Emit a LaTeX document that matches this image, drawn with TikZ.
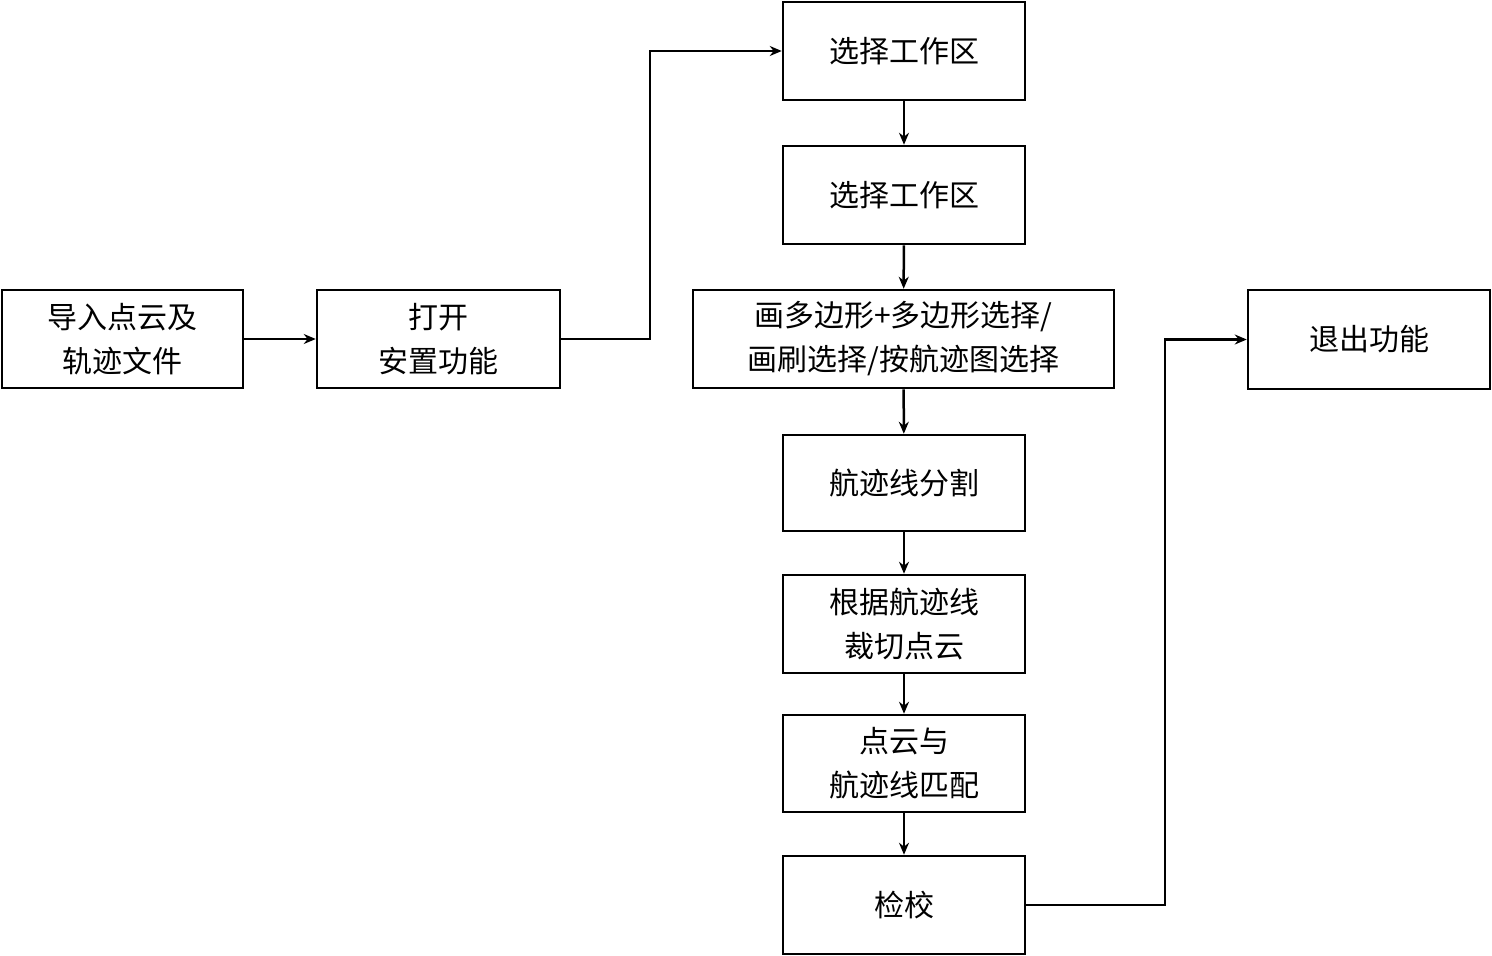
\documentclass[tikz,border=0pt]{standalone}
\usepackage{fontspec}
\setmainfont{Noto Sans CJK SC}
\usetikzlibrary{arrows.meta}
\begin{document}
\begin{tikzpicture}[x=1pt,y=-1pt,
  box/.style={draw,line width=2.5pt,align=center,inner sep=0pt,font=\fontsize{30}{44}\selectfont},
  arr/.style={line width=2.5pt,-{Stealth[length=12pt,width=10pt]}}]
\useasboundingbox (0,0) rectangle (1492,956);
\newcommand{\bx}[6]{\node[box,minimum width=#4-#2,minimum height=#5-#3] (#1) at ({(#2+#4)/2},{(#3+#5)/2}) {#6};}
\bx{a}{2}{290}{243}{388}{导入点云及\\轨迹文件}
\bx{b}{317}{290}{560}{388}{打开\\安置功能}
\bx{c1}{783}{2}{1025}{100}{选择工作区}
\bx{c2}{783}{146}{1025}{244}{选择工作区}
\bx{c3}{693}{290}{1114}{388}{画多边形+多边形选择/\\画刷选择/按航迹图选择}
\bx{c4}{783}{435}{1025}{531}{航迹线分割}
\bx{c5}{783}{575}{1025}{673}{根据航迹线\\裁切点云}
\bx{c6}{783}{715}{1025}{812}{点云与\\航迹线匹配}
\bx{c7}{783}{856}{1025}{954}{检校}
\bx{d}{1248}{290}{1490}{389}{退出功能}
\draw[arr] (a) -- (b);
\draw[arr] (b.east) -- (650,339) |- (c1.west);
\draw[arr] (c1) -- (c2);
\draw[arr] (c2) -- (c3);
\draw[arr] (c3) -- (c4);
\draw[arr] (c4) -- (c5);
\draw[arr] (c5) -- (c6);
\draw[arr] (c6) -- (c7);
\draw[arr] (c7.east) -- (1165,905) |- (d.west);
\end{tikzpicture}
\end{document}
